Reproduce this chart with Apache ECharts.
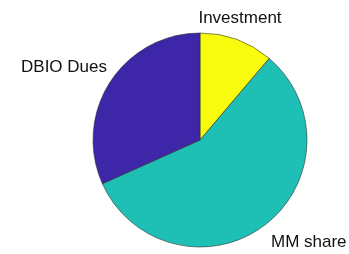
<!DOCTYPE html>
<html>
<head>
<meta charset="utf-8">
<script src="https://cdn.jsdelivr.net/npm/echarts@6/dist/echarts.min.js"></script>
<style>
html, body { margin: 0; padding: 0; background: #fff; }
#chart { width: 349px; height: 254px; }
</style>
</head>
<body>
<div id="chart"></div>
<script>
// slices, clockwise from 12 o'clock
var names = ['Investment', 'MM share', 'DBIO Dues'];
var shares = [11.2, 57.1, 31.7];
var colors = ['#F9FB0E', '#1EBFB5', '#3D26A8'];

var pieData = [];
for (var i = 0; i < names.length; i++) {
    pieData.push({ value: shares[i], name: names[i], itemStyle: { color: colors[i] } });
}

var myChart = echarts.init(document.getElementById('chart'));
myChart.setOption({
    animation: false,
    series: [
        {
            type: 'pie',
            center: ['200px', '140px'],
            radius: 107,
            startAngle: 90,
            clockwise: true,
            itemStyle: { borderColor: '#333', borderWidth: 0.6 },
            label: {
                show: true,
                position: 'outside',
                color: '#111',
                fontSize: 17,
                overflow: 'none',
                width: 120,
                fontFamily: 'Liberation Sans, Arial, sans-serif'
            },
            labelLine: { show: false, length: 10, length2: 0 },
            labelLayout: function (p) {
                if (p.dataIndex === 0) return { x: 240, y: 18, align: 'center', verticalAlign: 'middle' };
                if (p.dataIndex === 1) return { x: 271, y: 242, align: 'left', verticalAlign: 'middle' };
                return { x: 107, y: 67, align: 'right', verticalAlign: 'middle' };
            },
            data: pieData
        }
    ]
});
</script>
</body>
</html>
